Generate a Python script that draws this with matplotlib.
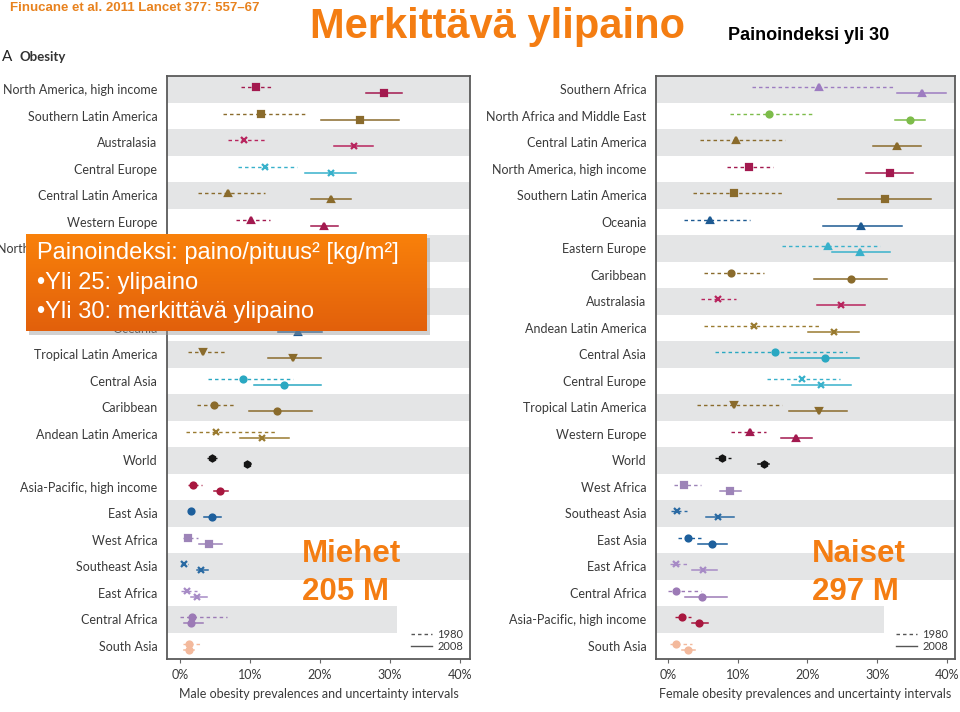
import numpy as np
import matplotlib.pyplot as plt
from matplotlib.colors import LinearSegmentedColormap
from matplotlib.lines import Line2D
from matplotlib.patches import Rectangle

plt.rcParams['font.family'] = ['Lato', 'DejaVu Sans']

# --- male panel (rows top to bottom) ---
male_regions = ['North America, high income', 'Southern Latin America', 'Australasia',
                'Central Europe', 'Central Latin America', 'Western Europe',
                'North Africa and Middle East', 'Eastern Europe', 'Southern Africa',
                'Oceania', 'Tropical Latin America', 'Central Asia', 'Caribbean',
                'Andean Latin America', 'World', 'Asia-Pacific, high income', 'East Asia',
                'West Africa', 'Southeast Asia', 'East Africa', 'Central Africa', 'South Asia']
male_lo_1980 = [8.7, 6.2, 6.8, 8.3, 2.6, 8.0, 3.0, 7.0, 4.0, 4.0, 1.1, 4.0, 2.4, 0.9, 3.9, 1.1, 1.1, 0.4, 0.2, 0.2, 0.0, 0.4]
male_mid_1980 = [10.8, 11.5, 9.2, 12.1, 6.8, 10.2, 5.5, 10.5, 8.0, 7.5, 3.3, 9.0, 4.8, 5.2, 4.6, 1.9, 1.5, 1.1, 0.5, 1.0, 1.7, 1.3]
male_hi_1980 = [13.2, 18.2, 12.2, 16.7, 12.1, 12.8, 9.0, 15.0, 14.0, 12.0, 6.7, 16.1, 8.0, 13.8, 5.5, 3.2, 2.0, 2.5, 1.1, 2.4, 6.7, 3.2]
male_lo_2008 = [26.6, 20.2, 22.0, 17.9, 18.7, 18.7, 16.0, 14.0, 13.0, 14.0, 12.6, 10.5, 9.9, 8.5, 9.3, 4.8, 3.4, 2.7, 2.4, 1.6, 0.6, 0.6]
male_mid_2008 = [29.1, 25.7, 24.8, 21.5, 21.5, 20.6, 19.5, 18.0, 17.5, 16.9, 16.1, 14.9, 13.8, 11.7, 9.6, 5.7, 4.6, 4.1, 3.0, 2.4, 1.5, 1.3]
male_hi_2008 = [31.7, 31.3, 27.6, 25.2, 24.4, 22.6, 23.0, 22.0, 23.0, 20.3, 20.2, 20.1, 18.9, 15.5, 10.1, 6.8, 5.8, 6.0, 4.0, 3.9, 3.3, 2.0]

# --- female panel ---
female_regions = ['Southern Africa', 'North Africa and Middle East', 'Central Latin America',
                  'North America, high income', 'Southern Latin America', 'Oceania',
                  'Eastern Europe', 'Caribbean', 'Australasia', 'Andean Latin America',
                  'Central Asia', 'Central Europe', 'Tropical Latin America', 'Western Europe',
                  'World', 'West Africa', 'Southeast Asia', 'East Asia', 'East Africa',
                  'Central Africa', 'Asia-Pacific, high income', 'South Asia']
female_lo_1980 = [12.1, 8.9, 4.6, 8.5, 3.6, 2.3, 16.3, 5.2, 4.8, 5.1, 6.7, 14.2, 4.1, 9.1, 6.7, 0.8, 0.4, 1.5, 0.3, 0.0, 1.0, 0.3]
female_mid_1980 = [21.6, 14.5, 9.8, 11.6, 9.4, 6.0, 23.0, 9.1, 7.1, 12.4, 15.4, 19.2, 9.4, 11.7, 7.8, 2.3, 1.3, 2.9, 1.2, 1.1, 2.0, 1.2]
female_hi_1980 = [32.5, 21.0, 16.8, 15.1, 16.6, 11.7, 30.4, 13.8, 9.8, 21.7, 25.6, 24.6, 16.3, 14.1, 9.1, 4.8, 2.7, 4.7, 2.7, 4.8, 3.3, 3.4]
female_lo_2008 = [32.8, 32.5, 29.4, 28.4, 24.4, 22.2, 23.5, 21.0, 21.4, 20.1, 17.5, 17.8, 17.4, 16.2, 12.9, 7.4, 5.4, 4.3, 3.4, 2.5, 3.4, 2.0]
female_mid_2008 = [36.4, 34.7, 32.9, 31.8, 31.1, 27.7, 27.5, 26.3, 24.8, 23.8, 22.5, 21.9, 21.6, 18.4, 13.8, 8.9, 7.2, 6.3, 5.0, 4.9, 4.4, 2.8]
female_hi_2008 = [39.9, 36.8, 36.3, 35.1, 37.7, 33.6, 31.9, 31.4, 28.2, 27.4, 27.4, 26.3, 25.7, 20.7, 14.5, 10.5, 9.4, 8.4, 7.0, 8.5, 5.7, 3.9]

x_ticks = [0, 10, 20, 30, 40]
x_tick_labels = ['0%', '10%', '20%', '30%', '40%']

region_style = {
    'North America, high income': ('#a3194f', 's'),
    'Southern Latin America': ('#8a6b2c', 's'),
    'Australasia': ('#b8245e', 'x'),
    'Central Europe': ('#38b1cb', 'x'),
    'Central Latin America': ('#8a6b2c', '^'),
    'Western Europe': ('#a3194f', '^'),
    'North Africa and Middle East': ('#7dbc4a', 'o'),
    'Eastern Europe': ('#38b1cb', '^'),
    'Southern Africa': ('#9d7cc1', '^'),
    'Oceania': ('#1d5a92', '^'),
    'Tropical Latin America': ('#8a6b2c', 'v'),
    'Central Asia': ('#2aa8c2', 'o'),
    'Caribbean': ('#8a6b2c', 'o'),
    'Andean Latin America': ('#9a7b30', 'x'),
    'World': ('#151515', 'h'),
    'Asia-Pacific, high income': ('#a8173f', 'o'),
    'East Asia': ('#1d5f9c', 'o'),
    'West Africa': ('#9d84b8', 's'),
    'Southeast Asia': ('#2a6aa3', 'x'),
    'East Africa': ('#a78bc6', 'x'),
    'Central Africa': ('#9c7ab6', 'o'),
    'South Asia': ('#f3b99c', 'o'),
}

TXT = '#3a3a3a'
ORANGE = '#f47d12'


def draw_panel(ax, regions, lo80, mid80, hi80, lo08, mid08, hi08, xlabel, xlim):
    n = len(regions)
    ax.set_xlim(*xlim)
    ax.set_ylim(n - 0.5, -0.5)
    for i in range(0, n, 2):
        # last gray band stops short to leave room for the legend
        xmax = (31 - xlim[0]) / (xlim[1] - xlim[0]) if i == n - 2 else 1
        ax.axhspan(i - 0.5, i + 0.5, xmax=xmax, color='#e4e5e6', lw=0, zorder=0)
    for i, r in enumerate(regions):
        c, m = region_style[r]
        ax.plot([lo80[i], hi80[i]], [i - 0.08, i - 0.08], color=c, lw=1,
                ls=(0, (2.5, 2.2)), zorder=2)
        ax.plot(mid80[i], i - 0.08, marker=m, color=c, ms=4.3, mew=1.6, zorder=3)
        ax.plot([lo08[i], hi08[i]], [i + 0.15, i + 0.15], color=c, lw=1.1, zorder=2)
        ax.plot(mid08[i], i + 0.15, marker=m, color=c, ms=4.3, mew=1.6, zorder=3)
    ax.set_yticks(range(n))
    ax.set_yticklabels(regions)
    ax.set_xticks(x_ticks)
    ax.set_xticklabels(x_tick_labels)
    ax.tick_params(axis='y', length=0, pad=7, labelsize=9, labelcolor=TXT)
    ax.tick_params(axis='x', length=3, pad=4, labelsize=9, labelcolor=TXT, color='#666')
    for s in ax.spines.values():
        s.set_color('#5a5a5a')
        s.set_linewidth(1.3)
    ax.set_xlabel(xlabel, fontsize=9, color=TXT, labelpad=5)
    handles = [Line2D([], [], color='#555', lw=1, ls=(0, (2.5, 2.2))),
               Line2D([], [], color='#555', lw=1)]
    ax.legend(handles, ['1980', '2008'], loc='lower right', frameon=False, fontsize=8,
              handlelength=1.9, handletextpad=0.5, labelspacing=0.15,
              borderaxespad=0.2, labelcolor=TXT)


fig = plt.figure(figsize=(9.6, 7.12), dpi=100)
ax_m = fig.add_axes([167 / 960, 1 - 659 / 712, 303 / 960, 583 / 712])
ax_f = fig.add_axes([656 / 960, 1 - 659 / 712, 299 / 960, 583 / 712])

draw_panel(ax_m, male_regions, male_lo_1980, male_mid_1980, male_hi_1980,
           male_lo_2008, male_mid_2008, male_hi_2008,
           'Male obesity prevalences and uncertainty intervals', (-1.86, 41.43))
draw_panel(ax_f, female_regions, female_lo_1980, female_mid_1980, female_hi_1980,
           female_lo_2008, female_mid_2008, female_hi_2008,
           'Female obesity prevalences and uncertainty intervals', (-1.72, 41.15))

# headings
fig.text(10 / 960, 1 - 8 / 712, 'Finucane et al. 2011 Lancet 377: 557–67', color='#e8821e',
         fontsize=9.5, fontweight='bold', family=['Liberation Sans'], va='center')
fig.text(310 / 960, 1 - 27 / 712, 'Merkittävä ylipaino', color=ORANGE, fontsize=30,
         fontweight='bold', family=['Liberation Sans'], va='center')
fig.text(728 / 960, 1 - 35 / 712, 'Painoindeksi yli 30', color='black', fontsize=13,
         fontweight='bold', family=['Liberation Sans'], va='center')
fig.text(2 / 960, 1 - 57 / 712, 'A', color='#222', fontsize=11, va='center')
fig.text(19 / 960, 1 - 57 / 712, 'Obesity', color='#333', fontsize=9.5, fontweight='bold',
         va='center')

# orange info box with shadow and vertical gradient
bx, by, bw, bh = 26 / 960, 1 - 331 / 712, 401 / 960, 97 / 712
fig.patches.append(Rectangle((bx + 3 / 960, by - 4 / 712), bw, bh, transform=fig.transFigure,
                             facecolor='#9a9a9a', alpha=0.45, lw=0, zorder=4))
ax_box = fig.add_axes([bx, by, bw, bh], zorder=5)
grad = LinearSegmentedColormap.from_list('box', ['#f9810a', '#e2600c'])
ax_box.imshow(np.linspace(0, 1, 64).reshape(-1, 1), aspect='auto', cmap=grad,
              extent=(0, 1, 0, 1))
ax_box.set_axis_off()
box_lines = ['Painoindeksi: paino/pituus² [kg/m²]', '•Yli 25: ylipaino',
             '•Yli 30: merkittävä ylipaino']
for k, line in enumerate(box_lines):
    ax_box.text(0.027, 0.8 - k * 0.3, line, color='white', fontsize=17,
                family=['Liberation Sans'], va='center', transform=ax_box.transAxes)

# big labels on the panels
for x0, words in [(302, ['Miehet', '205 M']), (812, ['Naiset', '297 M'])]:
    for k, w in enumerate(words):
        fig.text(x0 / 960, 1 - (554 + 38 * k) / 712, w, color=ORANGE, fontsize=22.5,
                 fontweight='bold', family=['Liberation Sans'], va='center', zorder=6)

fig.savefig('out.png', dpi=100)
